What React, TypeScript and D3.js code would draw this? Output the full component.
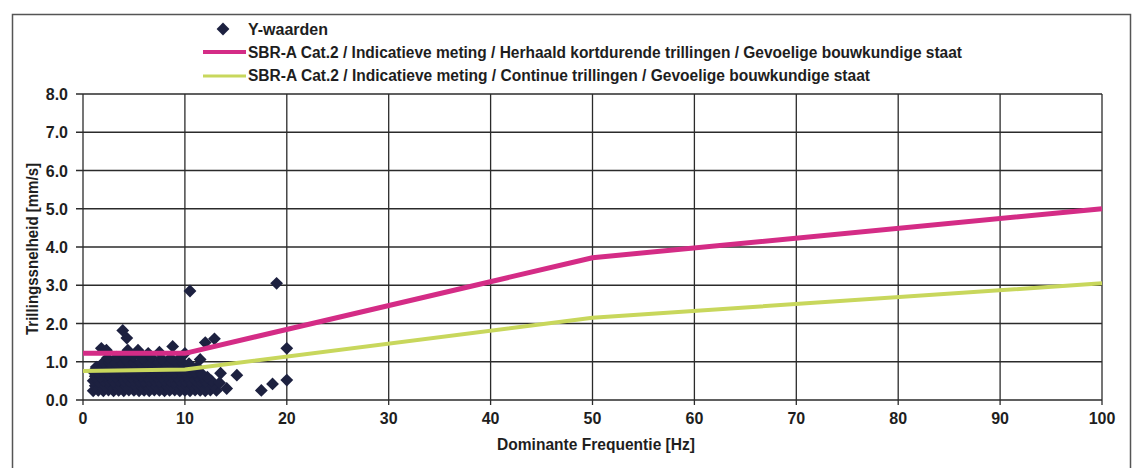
import * as d3 from "d3"

const W = 1136
const H = 468

const xTicks = [0, 10, 20, 30, 40, 50, 60, 70, 80, 90, 100]
const yTicks = [0, 1, 2, 3, 4, 5, 6, 7, 8]

const legendLabels = [
  "Y-waarden",
  "SBR-A Cat.2 / Indicatieve meting / Herhaald kortdurende trillingen / Gevoelige bouwkundige staat",
  "SBR-A Cat.2 / Indicatieve meting / Continue trillingen / Gevoelige bouwkundige staat",
]

// richtlijn-lijnen (frequentie in Hz, snelheid in mm/s)
const herhaaldFreq = [0, 10, 50, 100]
const herhaaldVelocity = [1.22, 1.22, 3.72, 5.0]
const continueFreq = [0, 10, 50, 100]
const continueVelocity = [0.76, 0.8, 2.15, 3.05]

// Y-waarden: [frequentie, snelheid]
const yWaarden: [number, number][] = [
  [1.0, 0.24], [1.5, 0.25], [2.0, 0.24], [2.5, 0.26], [3.0, 0.24], [3.5, 0.25], [4.0, 0.24], [4.5, 0.26],
  [5.0, 0.25], [5.5, 0.24], [6.0, 0.25], [6.5, 0.24], [7.0, 0.26], [7.5, 0.25], [8.0, 0.24], [8.5, 0.25],
  [9.0, 0.26], [9.5, 0.24], [10.0, 0.25], [10.5, 0.24], [11.0, 0.26], [11.5, 0.25], [12.0, 0.24], [12.5, 0.26],
  [13.1, 0.25],
  [1.2, 0.37], [1.7, 0.38], [2.2, 0.36], [2.7, 0.37], [3.2, 0.38], [3.7, 0.36], [4.2, 0.37], [4.7, 0.38],
  [5.2, 0.36], [5.7, 0.37], [6.2, 0.38], [6.7, 0.37], [7.2, 0.36], [7.7, 0.38], [8.2, 0.37], [8.7, 0.36],
  [9.2, 0.38], [9.7, 0.37], [10.2, 0.36], [10.7, 0.38], [11.2, 0.37], [11.7, 0.36], [12.2, 0.38], [12.8, 0.37],
  [1.0, 0.5], [1.5, 0.49], [2.0, 0.51], [2.5, 0.5], [3.0, 0.49], [3.5, 0.51], [4.0, 0.5], [4.5, 0.49],
  [5.0, 0.51], [5.5, 0.5], [6.0, 0.49], [6.5, 0.51], [7.0, 0.5], [7.5, 0.49], [8.0, 0.51], [8.5, 0.5],
  [9.0, 0.49], [9.5, 0.51], [10.0, 0.5], [10.5, 0.49], [11.0, 0.51], [11.5, 0.5], [12.0, 0.49], [12.6, 0.5],
  [1.2, 0.62], [1.7, 0.61], [2.2, 0.63], [2.7, 0.62], [3.2, 0.61], [3.7, 0.63], [4.2, 0.62], [4.7, 0.61],
  [5.2, 0.63], [5.7, 0.62], [6.2, 0.61], [6.7, 0.63], [7.2, 0.62], [7.7, 0.61], [8.2, 0.63], [8.7, 0.62],
  [9.2, 0.61], [9.7, 0.63], [10.2, 0.62], [10.7, 0.61], [11.2, 0.63], [11.7, 0.62], [12.2, 0.6],
  [1.0, 0.74], [1.5, 0.73], [2.0, 0.75], [2.5, 0.74], [3.0, 0.73], [3.5, 0.75], [4.0, 0.74], [4.5, 0.73],
  [5.0, 0.75], [5.5, 0.74], [6.0, 0.73], [6.5, 0.75], [7.0, 0.74], [7.5, 0.73], [8.0, 0.75], [8.5, 0.74],
  [9.0, 0.73], [9.5, 0.75], [10.0, 0.74], [10.5, 0.73], [11.0, 0.72], [11.6, 0.7],
  [1.3, 0.86], [1.9, 0.85], [2.4, 0.87], [2.9, 0.86], [3.4, 0.85], [3.9, 0.87], [4.4, 0.86], [4.9, 0.85],
  [5.4, 0.87], [5.9, 0.86], [6.4, 0.85], [6.9, 0.87], [7.4, 0.86], [7.9, 0.85], [8.4, 0.87], [8.9, 0.86],
  [9.4, 0.85], [9.9, 0.87], [10.5, 0.84], [11.2, 0.86],
  [2.0, 0.98], [2.6, 0.99], [3.2, 0.97], [3.8, 0.98], [4.4, 0.99], [5.0, 0.97], [5.6, 0.98], [6.2, 0.99],
  [6.8, 0.97], [7.4, 0.98], [8.0, 0.99], [8.6, 0.97], [9.2, 0.98], [9.8, 0.96], [10.4, 0.95],
  [2.4, 1.1], [3.3, 1.12], [4.1, 1.1], [4.9, 1.14], [5.8, 1.1], [6.7, 1.12], [7.7, 1.08], [8.6, 1.1], [9.6, 1.12],
  [1.8, 1.35], [2.3, 1.3], [4.4, 1.3], [5.4, 1.3], [6.4, 1.22], [7.5, 1.25], [8.8, 1.4], [10.0, 1.22],
  [11.5, 1.06], [12.0, 1.5], [12.9, 1.6], [13.5, 0.7], [15.1, 0.65], [14.1, 0.3], [13.4, 0.45],
  [3.9, 1.82], [4.3, 1.62], [10.5, 2.85], [19.0, 3.05], [17.5, 0.25], [18.6, 0.42], [20.0, 0.52], [20.0, 1.35],
]

const FONT = "'Liberation Sans', Arial, sans-serif"
const GRID = "#2b2b2b"
const NAVY = "#1d2140"
const PINK = "#d42c86"
const LIME = "#c8d75c"
const INK = "#1e1e1e"

export default function App() {
  const x = d3.scaleLinear().domain([0, 100]).range([83, 1102])
  const y = d3.scaleLinear().domain([0, 8]).range([400, 94])

  const line = d3
    .line<[number, number]>()
    .x((d) => x(d[0]))
    .y((d) => y(d[1]))

  const herhaald = herhaaldFreq.map((f, i) => [f, herhaaldVelocity[i]] as [number, number])
  const continu = continueFreq.map((f, i) => [f, continueVelocity[i]] as [number, number])

  // Excel-achtige ruit: vierkant 45 graden gedraaid
  const diamond = d3.symbol(d3.symbolSquare, 82)() as string

  return (
    <svg
      width={W}
      height={H}
      style={{ position: "absolute", left: 0, top: 0, background: "#fff" }}
      fontFamily={FONT}
    >
      <rect x={0} y={0} width={W} height={H} fill="#fff" />
      {/* kader */}
      <rect x={12.5} y={14.5} width={1118} height={480} fill="none" stroke="#555" strokeWidth={1.5} />

      {/* legenda */}
      <g fontSize={16} fontWeight="bold" fill={INK}>
        <path d={diamond} transform="translate(223,29) rotate(45)" fill={NAVY} />
        <text x={248} y={35} textLength={80} lengthAdjust="spacingAndGlyphs">
          {legendLabels[0]}
        </text>
        <line x1={203} x2={246} y1={52} y2={52} stroke={PINK} strokeWidth={4} />
        <text x={248} y={58} textLength={714} lengthAdjust="spacingAndGlyphs">
          {legendLabels[1]}
        </text>
        <line x1={203} x2={246} y1={76} y2={76} stroke={LIME} strokeWidth={3} />
        <text x={248} y={81} textLength={622} lengthAdjust="spacingAndGlyphs">
          {legendLabels[2]}
        </text>
      </g>

      {/* raster */}
      <g stroke={GRID} strokeWidth={1.3}>
        {yTicks.map((t) => (
          <line key={"h" + t} x1={x(0) - 7} x2={x(100)} y1={y(t)} y2={y(t)} />
        ))}
        {xTicks.map((t) => (
          <line key={"v" + t} x1={x(t)} x2={x(t)} y1={y(8)} y2={y(0) + 5} />
        ))}
      </g>

      {/* aslabels */}
      <g fontSize={16} fontWeight="bold" fill={INK}>
        {yTicks.map((t) => (
          <text key={"yl" + t} x={68} y={y(t) + 6} textAnchor="end">
            {d3.format(".1f")(t)}
          </text>
        ))}
        {xTicks.map((t) => (
          <text key={"xl" + t} x={x(t)} y={424} textAnchor="middle">
            {t}
          </text>
        ))}
      </g>

      <text
        x={497}
        y={450}
        fontSize={17}
        fontWeight="bold"
        fill={INK}
        textLength={198}
        lengthAdjust="spacingAndGlyphs"
      >
        Dominante Frequentie [Hz]
      </text>
      <text
        transform="translate(38,335) rotate(-90)"
        fontSize={16}
        fontWeight="bold"
        fill={INK}
        textLength={172}
        lengthAdjust="spacingAndGlyphs"
      >
        Trillingssnelheid [mm/s]
      </text>

      {/* meetpunten */}
      <g fill={NAVY}>
        {yWaarden.map((d, i) => (
          <path key={i} d={diamond} transform={`translate(${x(d[0])},${y(d[1])}) rotate(45)`} />
        ))}
      </g>

      {/* richtlijnen */}
      <path d={line(continu) ?? ""} fill="none" stroke={LIME} strokeWidth={4} strokeLinejoin="round" />
      <path d={line(herhaald) ?? ""} fill="none" stroke={PINK} strokeWidth={5} strokeLinejoin="round" />
    </svg>
  )
}
